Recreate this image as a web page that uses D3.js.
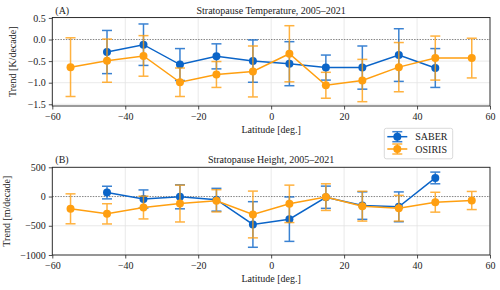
<!DOCTYPE html>
<html lang="en">
<head>
<meta charset="UTF-8"/>
<title>Stratopause trends</title>
<script src="https://d3js.org/d3.v7.min.js"></script>
<style>
  body { margin: 0; background: #fff; }
  svg text { font-family: "Liberation Serif", serif !important; fill: #222; }
</style>
</head>
<body>
<script>
    // latitude bins
    var saberLat  = [-45, -35, -25, -15, -5, 5, 15, 25, 35, 45];
    var osirisLat = [-55, -45, -35, -25, -15, -5, 5, 15, 25, 35, 45, 55];

    // (A) temperature trend [K/decade]
    var saberT     = [-0.29, -0.12, -0.58, -0.39, -0.50, -0.56, -0.65, -0.65, -0.36, -0.66];
    var saberTErr  = [0.50, 0.48, 0.37, 0.29, 0.49, 0.51, 0.29, 0.50, 0.61, 0.45];
    var osirisT    = [-0.64, -0.49, -0.38, -0.99, -0.81, -0.74, -0.33, -1.06, -0.95, -0.64, -0.43, -0.43];
    var osirisTErr = [0.68, 0.50, 0.47, 0.33, 0.30, 0.59, 0.65, 0.30, 0.49, 0.57, 0.51, 0.46];

    // (B) height trend [m/decade]
    var saberH     = [68, -42, -5, -55, -478, -387, -12, -155, -176, 318];
    var saberHErr  = [108, 155, 205, 195, 390, 380, 190, 235, 255, 100];
    var osirisH    = [-210, -296, -188, -120, -73, -307, -125, -10, -165, -200, -97, -68];
    var osirisHErr = [256, 173, 195, 315, 190, 400, 320, 228, 255, 220, 170, 155];

    var xTicks = [-60, -40, -20, 0, 20, 40, 60];
    var tTicks = [0.5, 0.0, -0.5, -1.0, -1.5];
    var hTicks = [500, 0, -500, -1000];

    var blue = "#0a64c8";
    var orange = "#ff9f10";
    var serif = "'Liberation Serif', serif";

    var w = 500, h = 290;
    var left = 52.3, right = 490;

    var svg = d3.select("body").append("svg")
        .attr("width", w)
        .attr("height", h)
        .attr("font-family", serif);

    var xScale = d3.scaleLinear().domain([-60, 60]).range([left, right]);

    function fmt(v, digits) {
        var s = digits ? v.toFixed(digits) : String(v);
        if (v < 0) s = "\u2212" + s.replace("-", "");
        return s;
    }

    function panel(opts) {
        var yScale = d3.scaleLinear().domain(opts.domain).range([opts.bottom, opts.top]);
        var g = svg.append("g");

        // grid
        g.selectAll("line.vgrid").data(xTicks).enter().append("line")
            .attr("x1", d => xScale(d)).attr("x2", d => xScale(d))
            .attr("y1", opts.top).attr("y2", opts.bottom)
            .attr("stroke", "#e3e3e3").attr("stroke-width", 0.8);
        g.selectAll("line.hgrid").data(opts.ticks.filter(d => d !== 0)).enter().append("line")
            .attr("x1", left).attr("x2", right)
            .attr("y1", d => yScale(d)).attr("y2", d => yScale(d))
            .attr("stroke", "#e3e3e3").attr("stroke-width", 0.8);

        // zero line
        g.append("line")
            .attr("x1", left).attr("x2", right)
            .attr("y1", yScale(0)).attr("y2", yScale(0))
            .attr("stroke", "#333").attr("stroke-width", 0.6)
            .attr("stroke-dasharray", "1.5,1.2");

        // axes
        var xAxis = d3.axisBottom(xScale).tickValues(xTicks).tickSize(3.5).tickPadding(3)
            .tickFormat(d => fmt(d));
        var yAxis = d3.axisLeft(yScale).tickValues(opts.ticks).tickSize(3.5).tickPadding(3)
            .tickFormat(d => fmt(d, opts.digits));

        var gx = g.append("g").attr("transform", "translate(0," + opts.bottom + ")").call(xAxis);
        var gy = g.append("g").attr("transform", "translate(" + left + ",0)").call(yAxis);
        [gx, gy].forEach(function(a) {
            a.attr("font-family", serif);
            a.select(".domain").remove();
            a.selectAll("line").attr("stroke", "#222").attr("stroke-width", 0.8);
            a.selectAll("text").attr("font-size", "10px").attr("fill", "#222");
        });

        // frame
        g.append("rect")
            .attr("x", left).attr("y", opts.top)
            .attr("width", right - left).attr("height", opts.bottom - opts.top)
            .attr("fill", "none").attr("stroke", "#222").attr("stroke-width", 0.9);

        // series
        opts.series.forEach(function(s) {
            var pts = s.lat.map((d, i) => ({ x: d, y: s.val[i], e: s.err[i] }));
            var sg = g.append("g");

            var eg = sg.append("g").attr("opacity", 0.8);
            eg.selectAll("line.bar").data(pts).enter().append("line")
                .attr("x1", d => xScale(d.x)).attr("x2", d => xScale(d.x))
                .attr("y1", d => yScale(d.y - d.e)).attr("y2", d => yScale(d.y + d.e))
                .attr("stroke", s.color).attr("stroke-width", 1.5);
            eg.selectAll("line.capt").data(pts).enter().append("line")
                .attr("x1", d => xScale(d.x) - 5).attr("x2", d => xScale(d.x) + 5)
                .attr("y1", d => yScale(d.y + d.e)).attr("y2", d => yScale(d.y + d.e))
                .attr("stroke", s.color).attr("stroke-width", 1.5);
            eg.selectAll("line.capb").data(pts).enter().append("line")
                .attr("x1", d => xScale(d.x) - 5).attr("x2", d => xScale(d.x) + 5)
                .attr("y1", d => yScale(d.y - d.e)).attr("y2", d => yScale(d.y - d.e))
                .attr("stroke", s.color).attr("stroke-width", 1.5);

            sg.append("path").datum(pts)
                .attr("d", d3.line().x(d => xScale(d.x)).y(d => yScale(d.y)))
                .attr("fill", "none").attr("stroke", s.color).attr("stroke-width", 1.5);

            sg.selectAll("circle").data(pts).enter().append("circle")
                .attr("cx", d => xScale(d.x)).attr("cy", d => yScale(d.y))
                .attr("r", 4).attr("fill", s.color);
        });

        // labels
        g.append("text").attr("x", left + 3).attr("y", opts.top - 4)
            .attr("font-size", "10px").text(opts.tag);
        g.append("text").attr("x", (left + right) / 2).attr("y", opts.top - 4)
            .attr("text-anchor", "middle").attr("font-size", "10px").text(opts.title);
        g.append("text").attr("x", (left + right) / 2).attr("y", opts.bottom + 27)
            .attr("text-anchor", "middle").attr("font-size", "10px").text("Latitude [deg.]");
        g.append("text")
            .attr("transform", "rotate(-90)")
            .attr("x", -(opts.top + opts.bottom) / 2).attr("y", opts.ylabX)
            .attr("text-anchor", "middle").attr("font-size", "10px").text(opts.ylabel);
    }

    panel({
        top: 17.5, bottom: 106, domain: [-1.54, 0.51], ticks: tTicks, digits: 1,
        tag: "(A)", title: "Stratopause Temperature, 2005\u20132021",
        ylabel: "Trend [K/decade]", ylabX: 16,
        series: [
            { lat: saberLat, val: saberT, err: saberTErr, color: blue },
            { lat: osirisLat, val: osirisT, err: osirisTErr, color: orange }
        ]
    });

    panel({
        top: 167.3, bottom: 255, domain: [-1000, 500], ticks: hTicks, digits: 0,
        tag: "(B)", title: "Stratopause Height, 2005\u20132021",
        ylabel: "Trend [m/decade]", ylabX: 10,
        series: [
            { lat: saberLat, val: saberH, err: saberHErr, color: blue },
            { lat: osirisLat, val: osirisH, err: osirisHErr, color: orange }
        ]
    });

    // legend
    var legend = svg.append("g").attr("transform", "translate(384.3,128.3)");
    legend.append("rect").attr("width", 68.4).attr("height", 30.5).attr("rx", 2)
        .attr("fill", "#fff").attr("fill-opacity", 0.85)
        .attr("stroke", "#d0d0d0").attr("stroke-width", 0.8);
    [["SABER", blue], ["OSIRIS", orange]].forEach(function(e, i) {
        var y = 8.4 + i * 12.3;
        var lg = legend.append("g").attr("transform", "translate(0," + y + ")");
        lg.append("line").attr("x1", 3).attr("x2", 23).attr("stroke", e[1]).attr("stroke-width", 1.5);
        lg.append("line").attr("x1", 13).attr("x2", 13).attr("y1", -5).attr("y2", 5)
            .attr("stroke", e[1]).attr("stroke-width", 1.5).attr("opacity", 0.8);
        lg.append("line").attr("x1", 8).attr("x2", 18).attr("y1", -5).attr("y2", -5)
            .attr("stroke", e[1]).attr("stroke-width", 1.5).attr("opacity", 0.8);
        lg.append("line").attr("x1", 8).attr("x2", 18).attr("y1", 5).attr("y2", 5)
            .attr("stroke", e[1]).attr("stroke-width", 1.5).attr("opacity", 0.8);
        lg.append("circle").attr("cx", 13).attr("r", 4).attr("fill", e[1]);
        lg.append("text").attr("x", 31).attr("y", 3.5).attr("font-size", "10px").text(e[0]);
    });
</script>
</body>
</html>
